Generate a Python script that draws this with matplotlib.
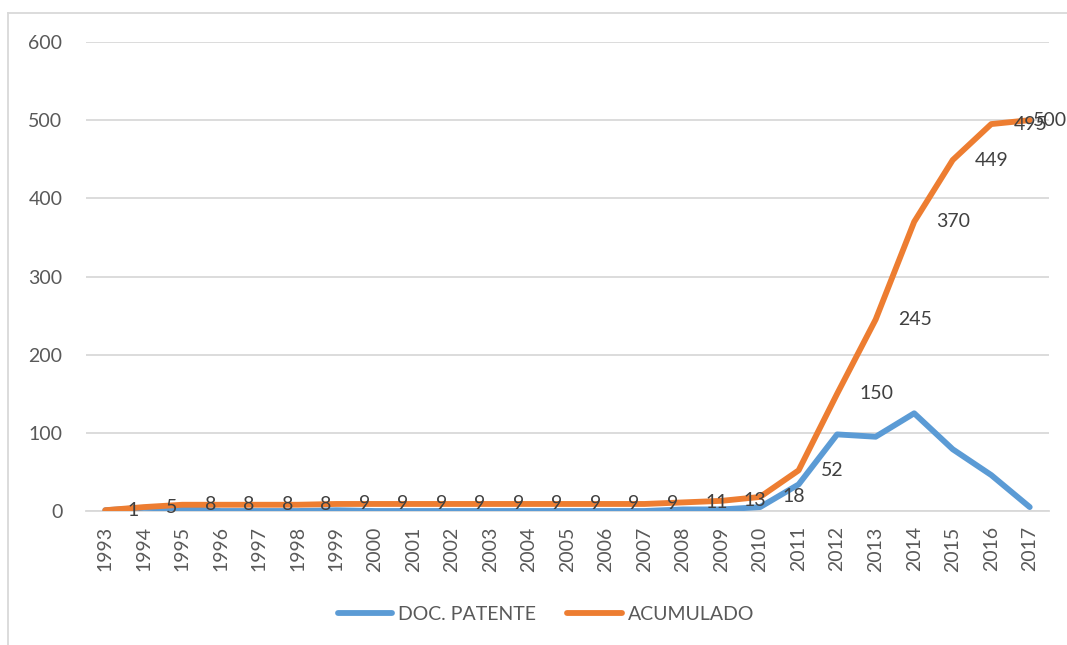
import matplotlib
matplotlib.use("Agg")
import matplotlib.pyplot as plt
from matplotlib.lines import Line2D

plt.rcParams['font.family'] = ['Lato', 'DejaVu Sans']

years = [str(y) for y in range(1993, 2018)]
doc_patente = [1, 4, 3, 0, 0, 0, 1, 0, 0, 0, 0, 0, 0, 0, 0,
               2, 2, 5, 34, 98, 95, 125, 79, 46, 5]
acumulado = [1, 5, 8, 8, 8, 8, 9, 9, 9, 9, 9, 9, 9, 9, 9,
             11, 13, 18, 52, 150, 245, 370, 449, 495, 500]

blue = '#5b9bd5'
orange = '#ed7d31'
text_grey = '#595959'
grid_grey = '#d9d9d9'

fig = plt.figure(figsize=(10.67, 6.45), dpi=100)
ax = fig.add_axes([86 / 1067, 1 - 511 / 645, (1049 - 86) / 1067, (511 - 42) / 645])

x = list(range(len(years)))
ax.plot(x, doc_patente, color=blue, lw=4.2, solid_capstyle='round',
        solid_joinstyle='round', label='DOC. PATENTE', zorder=3)
ax.plot(x, acumulado, color=orange, lw=4.2, solid_capstyle='round',
        solid_joinstyle='round', label='ACUMULADO', zorder=4)

# etiquetas de valor a la derecha de cada punto acumulado;
# la ultima se acerca al punto para que quepa en el grafico
for xi, v in zip(x, acumulado):
    dx = 2 if xi == x[-1] else 16
    ax.annotate(str(v), (xi, v), xytext=(dx, 0), textcoords='offset points',
                ha='left', va='center', fontsize=14, color='#404040',
                zorder=5, annotation_clip=False)

ax.set_xlim(-0.5, len(years) - 0.5)
ax.set_ylim(0, 600)
ax.set_yticks(range(0, 601, 100))
ax.set_xticks(x)
ax.set_xticklabels(years, rotation=90)
ax.tick_params(axis='both', length=0, labelsize=14, labelcolor=text_grey)
ax.tick_params(axis='y', pad=17)
ax.tick_params(axis='x', pad=11)
ax.grid(axis='y', color=grid_grey, lw=1.3)
ax.set_axisbelow(True)
for side in ['top', 'right', 'left']:
    ax.spines[side].set_visible(False)
ax.spines['bottom'].set_color(grid_grey)
ax.spines['bottom'].set_linewidth(1.3)

fig.legend(loc='center', bbox_to_anchor=(546 / 1067, 1 - 614 / 645), ncol=2,
           frameon=False, fontsize=14, labelcolor=text_grey,
           handlelength=2.8, handletextpad=0.3, columnspacing=1.6)

# borde del area del grafico
fig.add_artist(Line2D([8 / 1067, 8 / 1067], [0, 1 - 13 / 645],
                      color=grid_grey, lw=1.3, transform=fig.transFigure))
fig.add_artist(Line2D([8 / 1067, 1], [1 - 13 / 645, 1 - 13 / 645],
                      color=grid_grey, lw=1.3, transform=fig.transFigure))

fig.savefig('out.png', dpi=100, facecolor='white')
